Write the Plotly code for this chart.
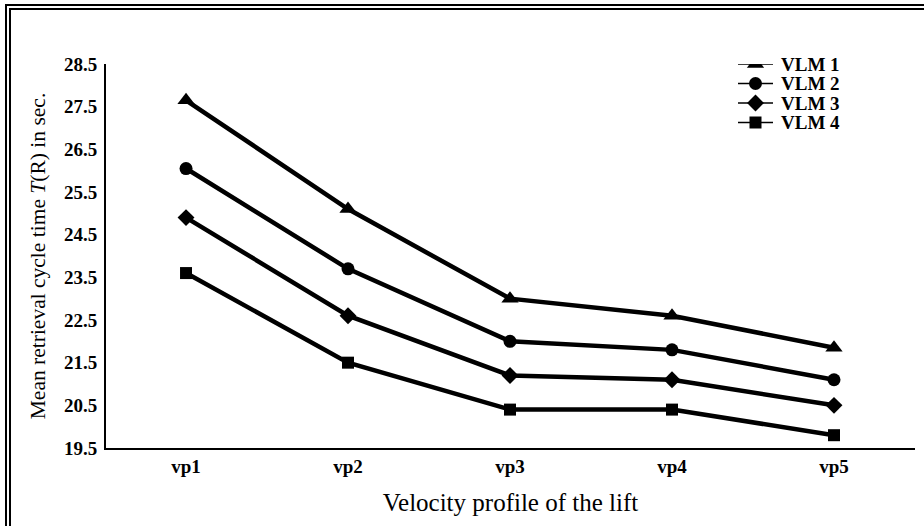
import plotly.graph_objects as go

categories = ["vp1", "vp2", "vp3", "vp4", "vp5"]
series_names = ["VLM 1", "VLM 2", "VLM 3", "VLM 4"]
vlm1 = [27.65, 25.1, 23.0, 22.6, 21.85]
vlm2 = [26.05, 23.7, 22.0, 21.8, 21.1]
vlm3 = [24.9, 22.6, 21.2, 21.1, 20.5]
vlm4 = [23.6, 21.5, 20.4, 20.4, 19.8]
y_ticks = [19.5, 20.5, 21.5, 22.5, 23.5, 24.5, 25.5, 26.5, 27.5, 28.5]

W, H = 924, 526
ML, MR, MT, MB = 106, 9, 64, 78
PW, PH = W - ML - MR, H - MT - MB

symbols = ["triangle-up", "circle", "diamond", "square"]
sizes = [15, 13, 13, 12]
font = "Liberation Serif, Times New Roman, serif"

fig = go.Figure()
for name, vals, sym, sz in zip(series_names, [vlm1, vlm2, vlm3, vlm4], symbols, sizes):
    fig.add_trace(go.Scatter(
        x=categories, y=vals, name=name, mode="lines+markers",
        line=dict(color="black", width=4.5),
        marker=dict(symbol=sym, size=sz, color="black"),
        showlegend=False,
    ))

# manual legend drawn on an overlay axis measured in pixels
leg_x0, leg_x1, leg_text_x = 738, 773, 779
leg_y = [64, 83.5, 103, 122.5]
annotations = []
for name, sym, sz, ly in zip(series_names, symbols, sizes, leg_y):
    fig.add_trace(go.Scatter(
        x=[leg_x0, leg_x1], y=[ly, ly],
        mode="lines", line=dict(color="black", width=1.5),
        xaxis="x2", yaxis="y2", showlegend=False, hoverinfo="skip",
    ))
    fig.add_trace(go.Scatter(
        x=[(leg_x0 + leg_x1) / 2], y=[ly], mode="markers",
        marker=dict(symbol=sym, size=sz, color="black"),
        xaxis="x2", yaxis="y2", showlegend=False, hoverinfo="skip",
    ))
    annotations.append(dict(x=leg_text_x, y=ly, xref="x2", yref="y2", text=name,
                            showarrow=False, xanchor="left", yanchor="middle",
                            font=dict(size=19, weight="bold", family=font, color="black")))

def px2x(p):
    return (p - ML) / PW

def px2y(p):
    return (H - MB - p) / PH

shapes = []
for (l, t, w) in [(6, 5, 2), (10, 9, 2)]:
    shapes.append(dict(type="rect", xref="paper", yref="paper",
                       x0=px2x(l), x1=px2x(W + 20), y0=px2y(t), y1=px2y(H + 20),
                       line=dict(color="black", width=w), fillcolor="rgba(0,0,0,0)", layer="below"))

fig.update_layout(
    width=W, height=H,
    margin=dict(l=ML, r=MR, t=MT, b=MB, autoexpand=False),
    paper_bgcolor="white", plot_bgcolor="white",
    font=dict(family=font, color="black"),
    showlegend=False,
    shapes=shapes,
    annotations=annotations,
    xaxis=dict(
        type="category", range=[-0.494, 4.5], automargin=False,
        showline=True, linecolor="black", linewidth=2,
        showgrid=False, zeroline=False, ticks="",
        tickfont=dict(size=19, weight="bold", family=font),
        title=dict(text="Velocity profile of the lift", font=dict(size=25, family=font), standoff=18),
    ),
    yaxis=dict(
        range=[19.5, 28.5], tickvals=y_ticks, ticktext=[f"{v:.1f}" for v in y_ticks],
        automargin=False,
        showline=True, linecolor="black", linewidth=2,
        showgrid=False, zeroline=False, ticks="", ticklabelstandoff=3,
        tickfont=dict(size=19, weight="bold", family=font),
        title=dict(text="Mean retrieval cycle time <i>T</i>(R) in sec.", font=dict(size=21.5, family=font), standoff=12),
    ),
    xaxis2=dict(domain=[0, 1], range=[ML, W - MR], overlaying="x", visible=False, fixedrange=True),
    yaxis2=dict(domain=[0, 1], range=[H - MB, MT], overlaying="y", visible=False, fixedrange=True),
)

fig.write_html("out.html", config={"displayModeBar": False},
               post_script="document.body.style.margin='0';document.body.style.overflow='hidden';")
